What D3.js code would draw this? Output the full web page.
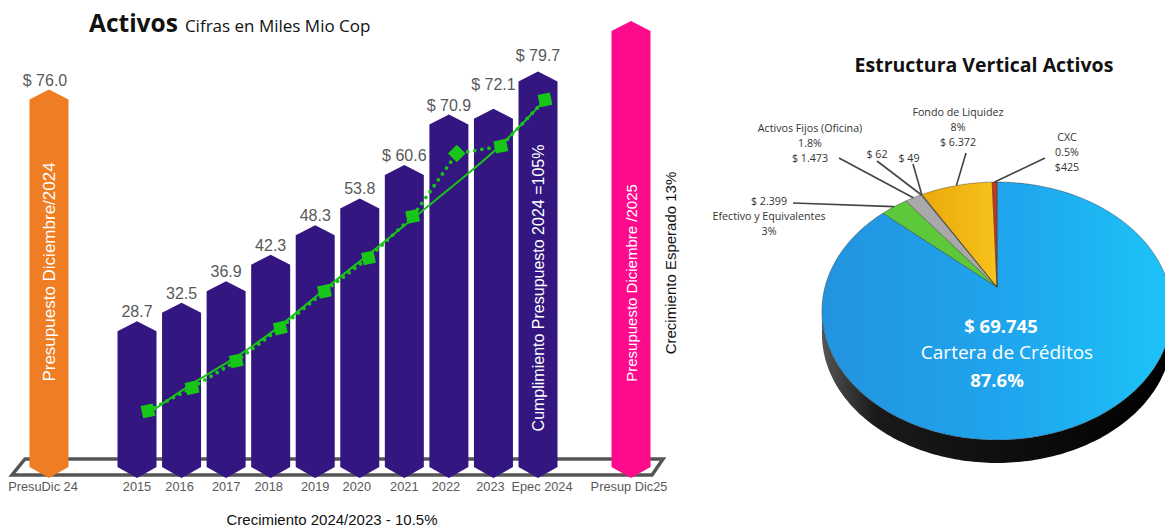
<!DOCTYPE html>
<html>
<head>
<meta charset="utf-8">
<script src="https://cdn.jsdelivr.net/npm/d3@7"></script>
<style>
  html, body { margin: 0; padding: 0; background: #fff; }
  svg { display: block; }
</style>
</head>
<body>
<svg id="chart" width="1165" height="528"></svg>
<script>
// ---- Activos (cifras en miles de millones COP) ----
const categorias = ["2015", "2016", "2017", "2018", "2019", "2020", "2021", "2022", "2023", "Epec 2024"];
const activos = [28.7, 32.5, 36.9, 42.3, 48.3, 53.8, 60.6, 70.9, 72.1, 79.7];
const tendencia = [28.2, 33.3, 37.4, 42.5, 48.7, 54.3, 60.2, 66.1, 72.0, 79.7];
const presupuestos = ["PresuDic 24", "Presup Dic25"];
const presupuestoValores = [76.0, 90.0];
const presupuestoTextos = ["Presupuesto Diciembre/2024", "Presupuesto Diciembre /2025"];

// ---- Estructura vertical de activos ----
const pieNombres = ["Cartera de Créditos", "Efectivo y Equivalentes", "Activos Fijos (Oficina)", "Otros 1", "Otros 2", "Fondo de Liquidez", "CXC"];
const pieValores = [69745, 2399, 1473, 62, 49, 6372, 425];
const piePorcentajes = ["87.6%", "3%", "1.8%", "", "", "8%", "0.5%"];
const pieColores = ["url(#gBlue)", "#5cc83a", "#a9a9a9", "#c4c4c4", "#8e8e8e", "url(#gGold)", "#c9361b"];

const svg = d3.select("#chart");
const defs = svg.append("defs");

const purple = "#33167f", orange = "#ee7d23", pink = "#fe0a8c", green = "#17c617", gray = "#595959";
const sans = "'Liberation Sans', Arial, sans-serif";
const open = "'Open Sans', 'Noto Sans', sans-serif";

// ---------- Left: bar chart ----------
const y = d3.scaleLinear().domain([0, 90]).range([462, 21]);
const y2 = d3.scaleLinear().domain([20, 80]).range([464, 98]);
const xMain = d3.scalePoint().domain(categorias).range([137, 538]);
const xLine = d3.scalePoint().domain(categorias).range([148, 545]);
const xSide = d3.scalePoint().domain(presupuestos).range([49, 631]);

// title
const title = svg.append("text").attr("x", 89).attr("y", 32).attr("font-family", open).attr("fill", "#111");
title.append("tspan").attr("font-size", 24.5).attr("font-weight", 700).text("Activos");
title.append("tspan").attr("font-size", 17).attr("dx", 7).text("Cifras en Miles Mio Cop");

// base platform
svg.append("path")
  .attr("d", "M25,459 L663,459 L652,475 L12,475 Z")
  .attr("fill", "none").attr("stroke", "#555").attr("stroke-width", 3.5).attr("stroke-linejoin", "miter");

const halfW = 19.5, roof = 10, rectBottom = 467, tip = 478;
function barPath(cx, peak) {
  return `M${cx - halfW},${peak + roof} L${cx},${peak} L${cx + halfW},${peak + roof}` +
         ` L${cx + halfW},${rectBottom} L${cx},${tip} L${cx - halfW},${rectBottom} Z`;
}

// budget bars
svg.selectAll("path.presu").data(presupuestos).join("path")
  .attr("class", "presu")
  .attr("d", (d, i) => barPath(xSide(d), y(presupuestoValores[i])))
  .attr("fill", (d, i) => i === 0 ? orange : pink);

// yearly bars
svg.selectAll("path.bar").data(categorias).join("path")
  .attr("class", "bar")
  .attr("d", (d, i) => barPath(xMain(d), y(activos[i])))
  .attr("fill", purple);

// value labels
const fmt1 = d3.format(".1f");
const labelNudge = { "2023": -15, "Epec 2024": -6 };
svg.selectAll("text.val").data(categorias).join("text")
  .attr("class", "val")
  .attr("x", d => xMain(d))
  .attr("y", (d, i) => y(activos[i]) - 4 + (labelNudge[d] || 0))
  .attr("text-anchor", "middle").attr("font-family", sans).attr("font-size", 16).attr("fill", gray)
  .text((d, i) => (i >= 6 ? "$ " : "") + fmt1(activos[i]));

svg.append("text")
  .attr("x", xSide(presupuestos[0]) - 4).attr("y", y(presupuestoValores[0]) - 4)
  .attr("text-anchor", "middle").attr("font-family", sans).attr("font-size", 16).attr("fill", gray)
  .text("$ " + fmt1(presupuestoValores[0]));

// trend curve
svg.append("path")
  .datum(tendencia)
  .attr("d", d3.line().x((d, i) => xLine(categorias[i])).y(d => y2(d)).curve(d3.curveBasis))
  .attr("fill", "none").attr("stroke", green).attr("stroke-width", 2);

// dotted series line
svg.append("path")
  .datum(activos)
  .attr("d", d3.line().x((d, i) => xLine(categorias[i])).y(d => y2(d)))
  .attr("fill", "none").attr("stroke", green).attr("stroke-width", 3.8)
  .attr("stroke-linecap", "round").attr("stroke-dasharray", "0 7.2");

// markers
const sq = d3.symbol().type(d3.symbolSquare).size(156);
svg.selectAll("path.mk").data(categorias).join("path")
  .attr("class", "mk")
  .attr("d", sq)
  .attr("transform", (d, i) => `translate(${xLine(d)},${y2(activos[i])}) rotate(${d === "2022" ? 45 : -12})`)
  .attr("fill", green);

// category axis
const tickNudge = { "2016": -2, "2018": -2, "2020": -3, "2022": -3, "2023": -3, "Epec 2024": 4 };
const axisMain = svg.append("g").attr("transform", "translate(0,482)")
  .call(d3.axisBottom(xMain).tickSize(0).tickPadding(0));
const axisSide = svg.append("g").attr("transform", "translate(0,482)")
  .call(d3.axisBottom(xSide).tickSize(0).tickPadding(0));
[axisMain, axisSide].forEach(g => {
  g.select(".domain").remove();
  g.selectAll("text").attr("font-family", sans).attr("font-size", 12.8).attr("fill", gray);
});
axisMain.selectAll(".tick").attr("transform", d => `translate(${xMain(d) + (tickNudge[d] || 0)},0)`);
axisSide.selectAll(".tick").attr("transform", (d, i) => `translate(${xSide(d) + (i === 0 ? -6 : -2)},0)`);

// rotated texts inside bars
function vtext(x, yc, txt, size, color) {
  svg.append("text")
    .attr("transform", `translate(${x},${yc}) rotate(-90)`)
    .attr("text-anchor", "middle").attr("dominant-baseline", "central")
    .attr("font-family", sans).attr("font-size", size).attr("fill", color)
    .text(txt);
}
vtext(xSide(presupuestos[0]), 272, presupuestoTextos[0], 17, "#fff");
vtext(xMain("Epec 2024"), 288, "Cumplimiento Presupuesto 2024 =105%", 16, "#fff");
vtext(xSide(presupuestos[1]), 283, presupuestoTextos[1], 15, "#fff");
vtext(670, 263, "Crecimiento Esperado 13%", 15, "#111");

svg.append("text").attr("x", 332).attr("y", 525)
  .attr("text-anchor", "middle").attr("font-family", sans).attr("font-size", 15).attr("fill", "#111")
  .text("Crecimiento 2024/2023 - 10.5%");

// ---------- Right: 3D pie ----------
svg.append("text").attr("x", 984).attr("y", 72)
  .attr("text-anchor", "middle").attr("font-family", open).attr("font-weight", 700).attr("font-size", 19.5).attr("fill", "#111")
  .text("Estructura Vertical Activos");

const gB = defs.append("linearGradient").attr("id", "gBlue").attr("x1", 0).attr("x2", 1).attr("y1", 0).attr("y2", 0);
gB.append("stop").attr("offset", "0%").attr("stop-color", "#2393df");
gB.append("stop").attr("offset", "55%").attr("stop-color", "#1fa6ee");
gB.append("stop").attr("offset", "100%").attr("stop-color", "#1cc4f8");
const gG = defs.append("linearGradient").attr("id", "gGold").attr("x1", 0).attr("x2", 1).attr("y1", 0).attr("y2", 0);
gG.append("stop").attr("offset", "0%").attr("stop-color", "#eaa90a");
gG.append("stop").attr("offset", "100%").attr("stop-color", "#f7c21c");
const gS = defs.append("linearGradient").attr("id", "gSide").attr("x1", 0).attr("x2", 1).attr("y1", 0).attr("y2", 0);
gS.append("stop").attr("offset", "0%").attr("stop-color", "#555");
gS.append("stop").attr("offset", "15%").attr("stop-color", "#1a1a1a");
gS.append("stop").attr("offset", "100%").attr("stop-color", "#000");

// perspective projection of a tilted disc
const P = { cx: 997, cy: 287, sx: 172, sy: 124.5, k: 0.186, depth: 23 };
function proj(a, dy = 0) {
  const s = Math.sin(a), c = Math.cos(a), d = 1 + P.k * c;
  return [P.cx + P.sx * s / d, P.cy - P.sy * c / d + dy];
}
function arcPts(a0, a1, dy = 0) {
  const n = Math.max(2, Math.ceil(Math.abs(a1 - a0) / (Math.PI / 180)));
  return d3.range(n + 1).map(i => proj(a0 + (a1 - a0) * i / n, dy));
}

// side wall
const aE = Math.acos(-P.k);
const sideTop = arcPts(aE, 2 * Math.PI - aE);
const sideBot = arcPts(2 * Math.PI - aE, aE, P.depth);
svg.append("path")
  .attr("d", d3.line()(sideTop.concat(sideBot)) + "Z")
  .attr("fill", "url(#gSide)");

// slices
const arcs = d3.pie().sort(null).startAngle(0).endAngle(2 * Math.PI)(pieValores);
svg.selectAll("path.slice").data(arcs).join("path")
  .attr("class", "slice")
  .attr("d", a => d3.line()([[P.cx, P.cy]].concat(arcPts(a.startAngle, a.endAngle))) + "Z")
  .attr("fill", (a, i) => pieColores[i])
  .attr("stroke", "rgba(40,40,40,0.55)").attr("stroke-width", 0.7).attr("stroke-linejoin", "round");

// slice labels with leaders
const fmtMil = d3.formatLocale({ decimal: ",", thousands: ".", grouping: [3], currency: ["$", ""] }).format(",d");
const pieLabels = [
  null,
  { x: 769, y: 205, lines: ["$ {v}", "{n}", "{p}"], from: [793, 203] },
  { x: 810, y: 132, lines: ["{n}", "{p}", "$ {v}"], from: [839, 158] },
  { x: 877, y: 158, lines: ["$ {v}"], from: [877, 161] },
  { x: 909, y: 162, lines: ["$ {v}"], from: [913, 164] },
  { x: 958, y: 116, lines: ["{n}", "{p}", "$ {v}"], from: [966, 153] },
  { x: 1067, y: 141, lines: ["{n}", "{p}", "${v}"], from: [1045, 158] }
];
pieLabels.forEach((L, i) => {
  if (!L) return;
  const a = arcs[i];
  const mid = (a.startAngle + a.endAngle) / 2;
  const end = proj(mid);
  svg.append("line")
    .attr("x1", L.from[0]).attr("y1", L.from[1]).attr("x2", end[0]).attr("y2", end[1])
    .attr("stroke", "#444").attr("stroke-width", 1.6);
  const t = svg.append("text").attr("font-family", open).attr("font-size", 10.7).attr("fill", "#333")
    .attr("text-anchor", "middle");
  L.lines.forEach((ln, j) => {
    t.append("tspan").attr("x", L.x).attr("y", L.y + j * 15)
      .text(ln.replace("{v}", fmtMil(pieValores[i])).replace("{n}", pieNombres[i]).replace("{p}", piePorcentajes[i]));
  });
});

// main slice label
const ct = svg.append("text").attr("text-anchor", "middle").attr("font-family", open).attr("fill", "#fff");
ct.append("tspan").attr("x", 1001).attr("y", 333).attr("font-weight", 700).attr("font-size", 18.5).text("$ " + fmtMil(pieValores[0]));
ct.append("tspan").attr("x", 1007).attr("y", 359).attr("font-size", 19).text(pieNombres[0]);
ct.append("tspan").attr("x", 997).attr("y", 387).attr("font-weight", 700).attr("font-size", 18.5).text(piePorcentajes[0]);
</script>
</body>
</html>
